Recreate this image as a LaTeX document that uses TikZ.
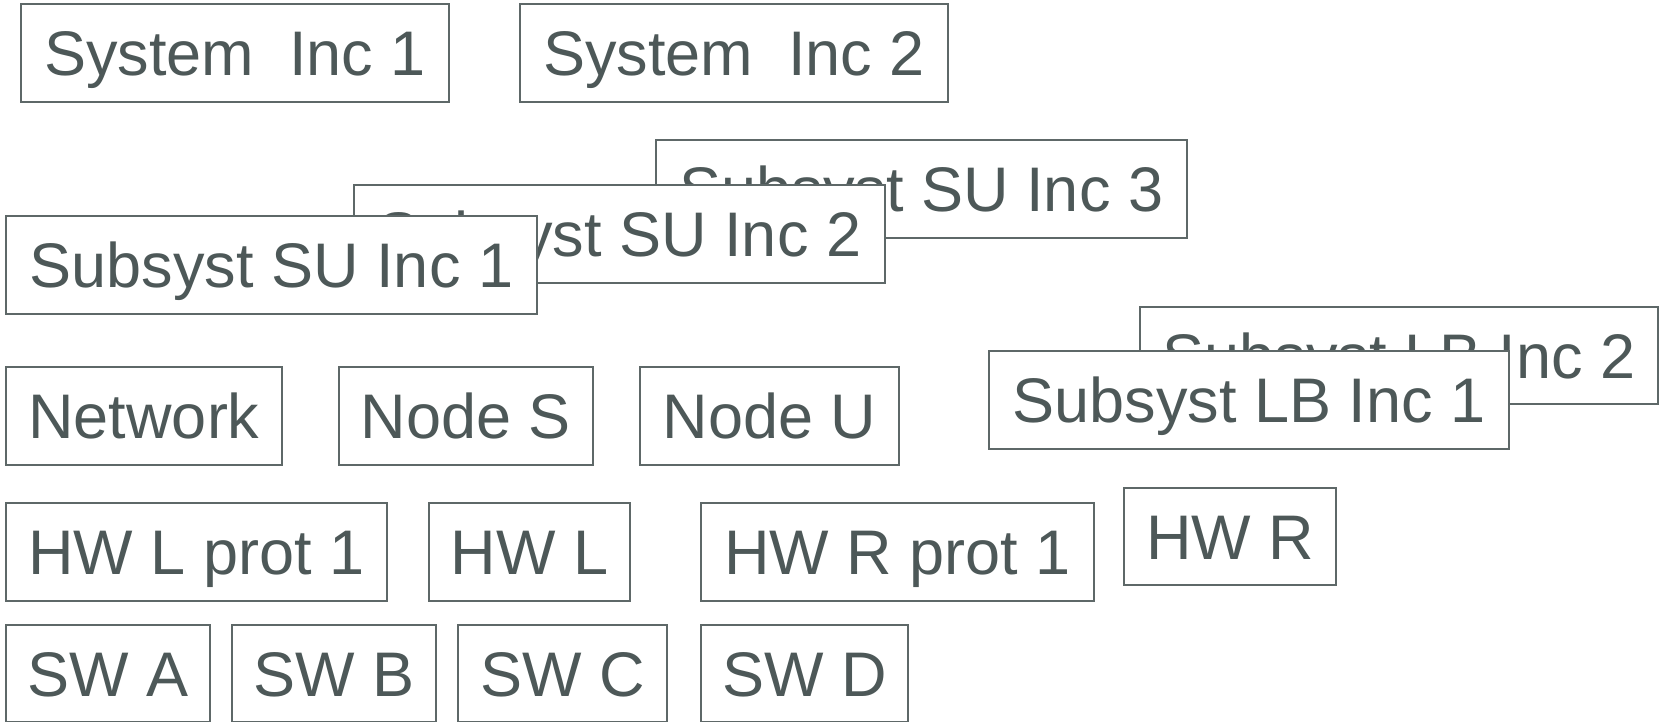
\documentclass[tikz,border=0pt]{standalone}
\usepackage{fontspec}
\setmainfont{Liberation Sans}
\definecolor{ink}{HTML}{4D5858}
\definecolor{edge}{HTML}{5E6868}
\begin{document}
\begin{tikzpicture}[x=1pt,y=1pt,
  box/.style={draw=edge, line width=1.3pt, fill=white, text=ink,
    inner sep=0pt, text height=45pt, text depth=0pt,
    font=\fontsize{63}{70}\selectfont}]
\useasboundingbox (0,0) rectangle (1660,-722);
% bx{name}{x1}{x2}{y1}{y2}{text}: box spanning the given edges
\newcommand{\bx}[6]{%
  \node[box, minimum width={#3-#2}, minimum height={#5-#4}]
    (#1) at ({(#2+#3)/2},{-(#4+#5)/2-1}) {#6};}
% top row
\bx{sys1}{21}{449}{3}{101}{System\ \ Inc 1}
\bx{sys2}{520}{948}{3}{101}{System\ \ Inc 2}
% stacked SU increments, back to front
\bx{su3}{656}{1187}{139}{237}{Subsyst SU Inc 3}
\bx{su2}{354}{885}{184}{282}{Subsyst SU Inc 2}
\bx{su1}{6}{537}{215}{313}{Subsyst SU Inc 1}
% stacked LB increments, back to front
\bx{lb2}{1140}{1658}{306}{403}{Subsyst LB Inc 2}
\bx{lb1}{989}{1509}{350}{448}{Subsyst LB Inc 1}
% network row
\bx{net}{6}{282}{366}{464}{Network}
\bx{nodeS}{339}{593}{366}{464}{Node S}
\bx{nodeU}{640}{899}{366}{464}{Node U}
% hardware row
\bx{hwl1}{6}{387}{502}{600}{HW L prot 1}
\bx{hwl}{429}{630}{502}{600}{HW L}
\bx{hwr1}{701}{1094}{502}{600}{HW R prot 1}
\bx{hwr}{1124}{1336}{487}{584}{HW R}
% software row
\bx{swa}{6}{210}{624}{721}{SW A}
\bx{swb}{232}{436}{624}{721}{SW B}
\bx{swc}{458}{667}{624}{721}{SW C}
\bx{swd}{701}{908}{624}{721}{SW D}
\end{tikzpicture}
\end{document}
